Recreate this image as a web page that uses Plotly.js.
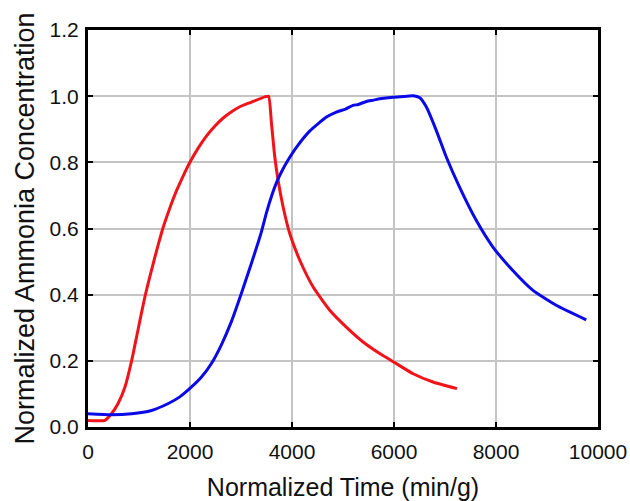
<!DOCTYPE html>
<html>
<head>
<meta charset="utf-8">
<script src="https://cdn.plot.ly/plotly-3.0.1.min.js"></script>
<style>html,body{margin:0;padding:0;background:#fff;}#chart{width:630px;height:501px;}</style>
</head>
<body>
<div id="chart"></div>
<script>
// Red series
const redTime = [0, 330, 460, 590, 725, 855, 985, 1115, 1248, 1380, 1475, 1600, 1738, 1870, 1998, 2160, 2325, 2490, 2651, 2815, 2977, 3205, 3465, 3540,
  3598, 3663, 3728, 3826, 3957, 4153, 4415, 4740, 5065, 5395, 5720, 6000, 6375, 6765, 7235];
const redConc = [0.020, 0.020, 0.040, 0.071, 0.121, 0.200, 0.297, 0.393, 0.476, 0.553, 0.604, 0.660, 0.715, 0.760, 0.800, 0.843, 0.880, 0.910, 0.934, 0.953, 0.968, 0.982, 0.998, 1.000,
  0.917, 0.816, 0.745, 0.665, 0.584, 0.504, 0.423, 0.353, 0.302, 0.257, 0.222, 0.196, 0.161, 0.136, 0.116];

// Blue series
const blueTime = [0, 460, 855, 1245, 1575, 1800, 2030, 2225, 2420, 2620, 2815, 3010, 3205, 3400, 3500, 3600, 3700, 3800, 3900, 4090, 4350, 4520, 4675, 4870, 5050, 5195, 5300, 5460, 5600, 5720, 5980, 6200, 6375, 6505,
  6635, 6830, 7025, 7285, 7615, 7940, 8330, 8725, 9180, 9770];
const blueConc = [0.040, 0.037, 0.040, 0.050, 0.071, 0.091, 0.121, 0.151, 0.192, 0.250, 0.320, 0.405, 0.495, 0.590, 0.648, 0.698, 0.740, 0.773, 0.801, 0.846, 0.895, 0.918, 0.937, 0.952, 0.961, 0.972, 0.975, 0.984, 0.988, 0.992, 0.997, 0.999, 1.001, 0.995,
  0.967, 0.896, 0.816, 0.725, 0.624, 0.544, 0.473, 0.413, 0.368, 0.324];

const xTicks = [0, 2000, 4000, 6000, 8000, 10000];
const yTicks = [0.0, 0.2, 0.4, 0.6, 0.8, 1.0, 1.2];

const traces = [
  {x: redTime, y: redConc, type: 'scatter', mode: 'lines', line: {color: '#f0141a', width: 3, shape: 'spline', smoothing: 0.5}, showlegend: false},
  {x: blueTime, y: blueConc, type: 'scatter', mode: 'lines', line: {color: '#0a0ae8', width: 3, shape: 'spline', smoothing: 0.5}, showlegend: false}
];

const font = 'Arial, "Liberation Sans", sans-serif';
const layout = {
  width: 630, height: 501,
  margin: {l: 88, r: 32, t: 30, b: 74},
  paper_bgcolor: '#fff', plot_bgcolor: '#fff',
  font: {family: font, color: '#111', size: 21},
  xaxis: {
    range: [0, 10000], tickvals: xTicks, ticktext: xTicks.map(String),
    showgrid: true, gridcolor: '#c4c4c4', gridwidth: 2,
    showline: true, linecolor: '#000', linewidth: 3, mirror: 'ticks',
    ticks: 'inside', ticklen: 5, tickwidth: 2, tickcolor: '#000',
    zeroline: false, ticklabelstandoff: 4,
    tickfont: {size: 21, family: font},
    title: {text: 'Normalized Time (min/g)', font: {size: 25, family: font}, standoff: 22}
  },
  yaxis: {
    range: [0, 1.2], tickvals: yTicks, ticktext: yTicks.map(v => v.toFixed(1)),
    showgrid: true, gridcolor: '#c4c4c4', gridwidth: 2,
    showline: true, linecolor: '#000', linewidth: 3, mirror: 'ticks',
    ticks: 'inside', ticklen: 5, tickwidth: 2, tickcolor: '#000',
    zeroline: false, ticklabelstandoff: 2,
    tickfont: {size: 21, family: font},
    title: {text: 'Normalized Ammonia Concentration', font: {size: 27, family: font}, standoff: 8}
  }
};

Plotly.newPlot('chart', traces, layout, {staticPlot: true, displayModeBar: false});
</script>
</body>
</html>
